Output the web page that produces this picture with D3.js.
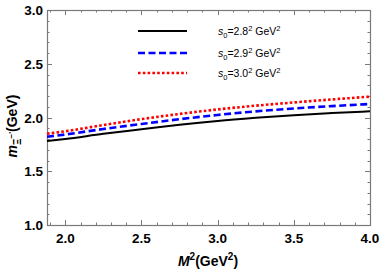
<!DOCTYPE html>
<html><head><meta charset="utf-8">
<script src="https://cdn.jsdelivr.net/npm/d3@7"></script>
<style>body{margin:0;background:#fff}svg{display:block}</style>
</head><body>
<svg id="c" width="382" height="273"></svg>
<script>
const M2 = [1.88, 2.0, 2.25, 2.5, 2.75, 3.0, 3.25, 3.5, 3.75, 4.0];
const black = [1.781, 1.800, 1.848, 1.890, 1.932, 1.968, 1.997, 2.022, 2.041, 2.058];
const blue  = [1.821, 1.842, 1.893, 1.940, 1.984, 2.024, 2.057, 2.084, 2.106, 2.126];
const red   = [1.849, 1.872, 1.930, 1.985, 2.033, 2.075, 2.110, 2.140, 2.168, 2.194];
const labels = ["2.8", "2.9", "3.0"];
const xTicks = [2.0, 2.5, 3.0, 3.5, 4.0];
const yTicks = [1.0, 1.5, 2.0, 2.5, 3.0];

const svg = d3.select("#c");
const L = 47, R = 370, T = 10, B = 225;
const x = d3.scaleLinear().domain([1.88, 4.0]).range([L, R]);
const y = d3.scaleLinear().domain([1.0, 3.0]).range([B, T]);
const frame = "#7a7a7a";
const FF = "Liberation Sans, Arial, sans-serif";

// ticks
const xMinor = d3.range(19, 41).map(d => d / 10);
const yMinor = d3.range(10, 31).map(d => d / 10);
const g = svg.append("g").attr("stroke", frame).attr("stroke-width", 1);
xMinor.forEach(v => {
  const major = Math.abs(v * 2 - Math.round(v * 2)) < 1e-6;
  const len = major ? 5 : 2.5;
  const px = Math.round(x(v)) + 0.5;
  g.append("line").attr("x1", px).attr("x2", px).attr("y1", B).attr("y2", B - len);
  g.append("line").attr("x1", px).attr("x2", px).attr("y1", T).attr("y2", T + len);
});
yMinor.forEach(v => {
  const major = Math.abs(v * 2 - Math.round(v * 2)) < 1e-6;
  const len = major ? 5 : 2.5;
  const py = Math.round(y(v)) + 0.5;
  g.append("line").attr("y1", py).attr("y2", py).attr("x1", L).attr("x2", L + len);
  g.append("line").attr("y1", py).attr("y2", py).attr("x1", R).attr("x2", R - len);
});
svg.append("rect").attr("x", L + 0.5).attr("y", T + 0.5).attr("width", R - L).attr("height", B - T)
  .attr("fill", "none").attr("stroke", frame).attr("stroke-width", 1.2);

// tick labels
svg.selectAll(".xt").data(xTicks).enter().append("text")
  .attr("x", d => x(d)).attr("y", 243).attr("text-anchor", "middle")
  .attr("font-family", FF).attr("font-weight", "bold").attr("font-size", 13.5)
  .text(d => d.toFixed(1));
svg.selectAll(".yt").data(yTicks).enter().append("text")
  .attr("x", 43).attr("y", d => y(d) + 5).attr("text-anchor", "end")
  .attr("font-family", FF).attr("font-weight", "bold").attr("font-size", 13.5)
  .text(d => d.toFixed(1));

// axis titles
const xt = svg.append("text").attr("x", 208).attr("y", 266).attr("text-anchor", "middle")
  .attr("font-family", FF).attr("font-weight", "bold").attr("font-size", 14);
xt.append("tspan").attr("font-style", "italic").text("M");
xt.append("tspan").attr("dy", -6).attr("font-size", 10).text("2");
xt.append("tspan").attr("dy", 6).text("(GeV");
xt.append("tspan").attr("dy", -6).attr("font-size", 10).text("2");
xt.append("tspan").attr("dy", 6).text(")");

const yt = svg.append("text").attr("transform", "translate(17,126) rotate(-90)").attr("text-anchor", "middle")
  .attr("font-family", FF).attr("font-weight", "bold").attr("font-size", 14);
yt.append("tspan").attr("font-style", "italic").text("m");
yt.append("tspan").attr("dy", 4).attr("font-size", 10).text("Ξ");
yt.append("tspan").attr("dy", -7).attr("font-size", 8).text("−'");
yt.append("tspan").attr("dy", 3).text("(GeV)");

// curves
const styles = [
  {data: black, color: "#000000", w: 2, dash: null},
  {data: blue, color: "#0000ff", w: 2.6, dash: "7,3.5"},
  {data: red, color: "#ff0000", w: 2.6, dash: "2.6,2.2"}
];
const line = d3.line().x((d, i) => x(M2[i])).y(d => y(d)).curve(d3.curveMonotoneX);
styles.forEach(s => {
  svg.append("path").attr("d", line(s.data)).attr("fill", "none")
    .attr("stroke", s.color).attr("stroke-width", s.w).attr("stroke-dasharray", s.dash);
});

// legend
const ly = [31, 53, 73];
styles.forEach((s, i) => {
  svg.append("line").attr("x1", 138).attr("x2", 187).attr("y1", ly[i]).attr("y2", ly[i])
    .attr("stroke", s.color).attr("stroke-width", s.w).attr("stroke-dasharray", s.dash);
  const t = svg.append("text").attr("x", 218).attr("y", ly[i] + 4)
    .attr("font-family", FF).attr("font-size", 10.5);
  t.append("tspan").attr("font-style", "italic").text("s");
  t.append("tspan").attr("dy", 3).attr("font-size", 7.5).text("0");
  t.append("tspan").attr("dy", -3).text("=" + labels[i]);
  t.append("tspan").attr("dy", -4).attr("font-size", 7.5).text("2");
  t.append("tspan").attr("dy", 4).text(" GeV");
  t.append("tspan").attr("dy", -4).attr("font-size", 7.5).text("2");
});
</script>
</body></html>
